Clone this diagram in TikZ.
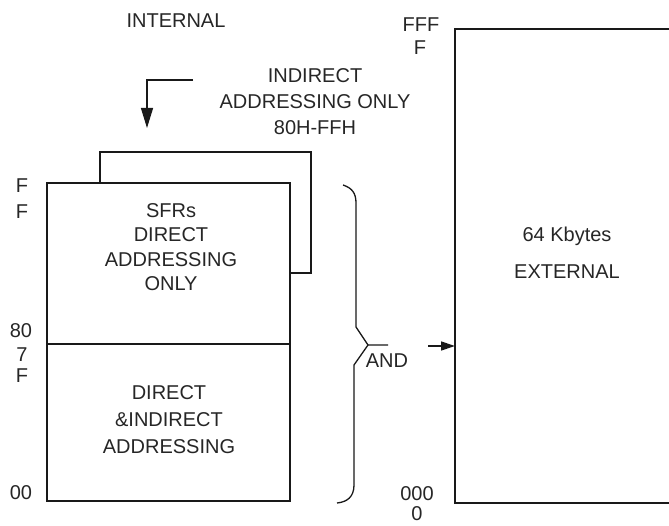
\documentclass[tikz,border=0pt]{standalone}
\usepackage{fontspec}
\setmainfont{Liberation Sans}
\usetikzlibrary{arrows.meta}
\begin{document}
\begin{tikzpicture}[x=1pt,y=-1pt,
  line/.style={line width=1.3pt,black!90},
  lbl/.style={inner sep=0pt,align=center,font=\fontsize{20}{25}\selectfont,text=black!85},
  tri/.style={-{Triangle[length=20pt,width=12pt]}}]
\useasboundingbox (0,0) rectangle (669,526);
% left memory boxes
\coordinate (bl) at (47,501);
\coordinate (ml) at (47,344);
\coordinate (mr) at (290,344);
\coordinate (tl) at (47,183);
\coordinate (tr) at (290,183);
\coordinate (br) at (290,501);
\draw[line] (tl) -- (tr) -- (br) -- (bl) -- cycle;
\draw[line] (ml) -- (mr);
% loop
\coordinate (lp1) at (100,183);
\coordinate (lp2) at (100,152);
\coordinate (lp3) at (311,152);
\coordinate (lp4) at (311,273);
\coordinate (lp5) at (290,273);
\draw[line] (lp1) -- (lp2) -- (lp3) -- (lp4) -- (lp5);
% top arrow
\coordinate (ta1) at (193,80);
\coordinate (ta2) at (147,80);
\coordinate (ta3) at (147,128);
\draw[line,tri] (ta1) -- (ta2) -- (ta3);
% external box
\coordinate (e1) at (669,29);
\coordinate (e2) at (455,29);
\coordinate (e3) at (455,503);
\coordinate (e4) at (669,503);
\draw[line] (e1) -- (e2) -- (e3) -- (e4);
% brace
\coordinate (b1) at (343,185);
\coordinate (b2) at (356,203);
\coordinate (b3) at (356,327);
\coordinate (tip) at (368,345);
\coordinate (b4) at (388,345);
\coordinate (b5) at (354,365);
\coordinate (b6) at (354,485);
\coordinate (b7) at (337,503);
\draw[line] (b1) .. controls (352,188) and (356,193) .. (b2) -- (b3) -- (tip) -- (b4);
\draw[line] (tip) -- (b5) -- (b6) .. controls (354,497) and (347,502) .. (b7);
% right arrow
\coordinate (ra1) at (428,346);
\draw[line,-{Triangle[length=14pt,width=9pt]}] (ra1) -- (e2 |- ra1);
% texts
\node[lbl] (internal) at (176,21) {INTERNAL};
\node[lbl,font=\fontsize{20}{26}\selectfont] (indirect) at (315,102) {INDIRECT\\ADDRESSING ONLY\\80H-FFH};
\node[lbl,font=\fontsize{20}{24.5}\selectfont] (sfr) at (171,247) {SFRs\\DIRECT\\ADDRESSING\\ONLY};
\node[lbl,font=\fontsize{20}{27}\selectfont] (dir) at (169,420) {DIRECT\\\&INDIRECT\\ADDRESSING};
\node[lbl,font=\fontsize{20}{37}\selectfont] (ext) at (567,253) {64 Kbytes\\EXTERNAL};
\node[lbl] (and) at (387,361) {AND};
\node[lbl] (ff1) at (22,186) {F};
\node[lbl] (ff2) at (22,212) {F};
\node[lbl] (h80) at (21,331) {80};
\node[lbl] (h7) at (22,355) {7};
\node[lbl] (h7f) at (22,376) {F};
\node[lbl] (h00) at (21,493) {00};
\node[lbl] (fff) at (421,25) {FFF};
\node[lbl] (fff2) at (420,48) {F};
\node[lbl] (z0) at (417,494) {000};
\node[lbl,anchor=north] (z1) at (417,506) {0};
\end{tikzpicture}
\end{document}
